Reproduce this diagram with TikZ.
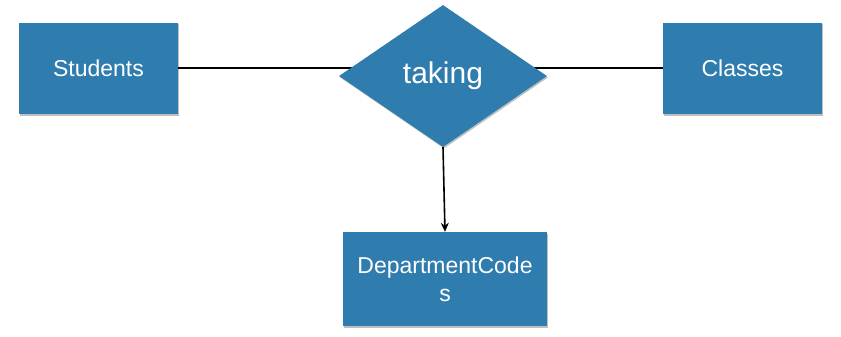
\documentclass[tikz,border=0pt]{standalone}
\usepackage{fontspec}
\setmainfont{Liberation Sans}
\usetikzlibrary{shapes.geometric,shadows,backgrounds,arrows.meta}
\definecolor{erblue}{RGB}{47,124,174}
\tikzset{
  entity/.style={rectangle, fill=erblue, text=white, inner sep=0pt,
    drop shadow={shadow xshift=1pt, shadow yshift=-1.5pt, opacity=0.25, fill=black},
    font=\fontsize{23pt}{30pt}\selectfont, align=center},
  relation/.style={diamond, fill=erblue, text=white, inner sep=0pt,
    minimum width=208pt, minimum height=142pt,
    drop shadow={shadow xshift=1pt, shadow yshift=-1.5pt, opacity=0.25, fill=black},
    font=\fontsize{30pt}{36pt}\selectfont},
  link/.style={line width=2pt, black}
}
\begin{document}
\begin{tikzpicture}[x=1pt,y=-1pt]
\useasboundingbox (0,0) rectangle (841,337);
\node[entity, minimum width=159pt, minimum height=91pt] (students) at (98.5,68.5) {Students};
\node[entity, minimum width=159pt, minimum height=91pt] (classes) at (742.5,68.5) {Classes};
\node[relation] (taking) at (443,76) {\raisebox{-3pt}{taking}};
\node[entity, minimum width=204pt, minimum height=94pt] (dept) at (445,279) {DepartmentCode\\[-2pt]s};
\begin{scope}[on background layer]
\draw[link] (students.east) -- (students.east -| taking.center);
\draw[link] (classes.west) -- (classes.west -| taking.center);
\end{scope}
\draw[link, line width=1.6pt, -{Stealth[length=9pt,width=8pt]}] (taking.south) -- (dept.north);
\end{tikzpicture}
\end{document}
